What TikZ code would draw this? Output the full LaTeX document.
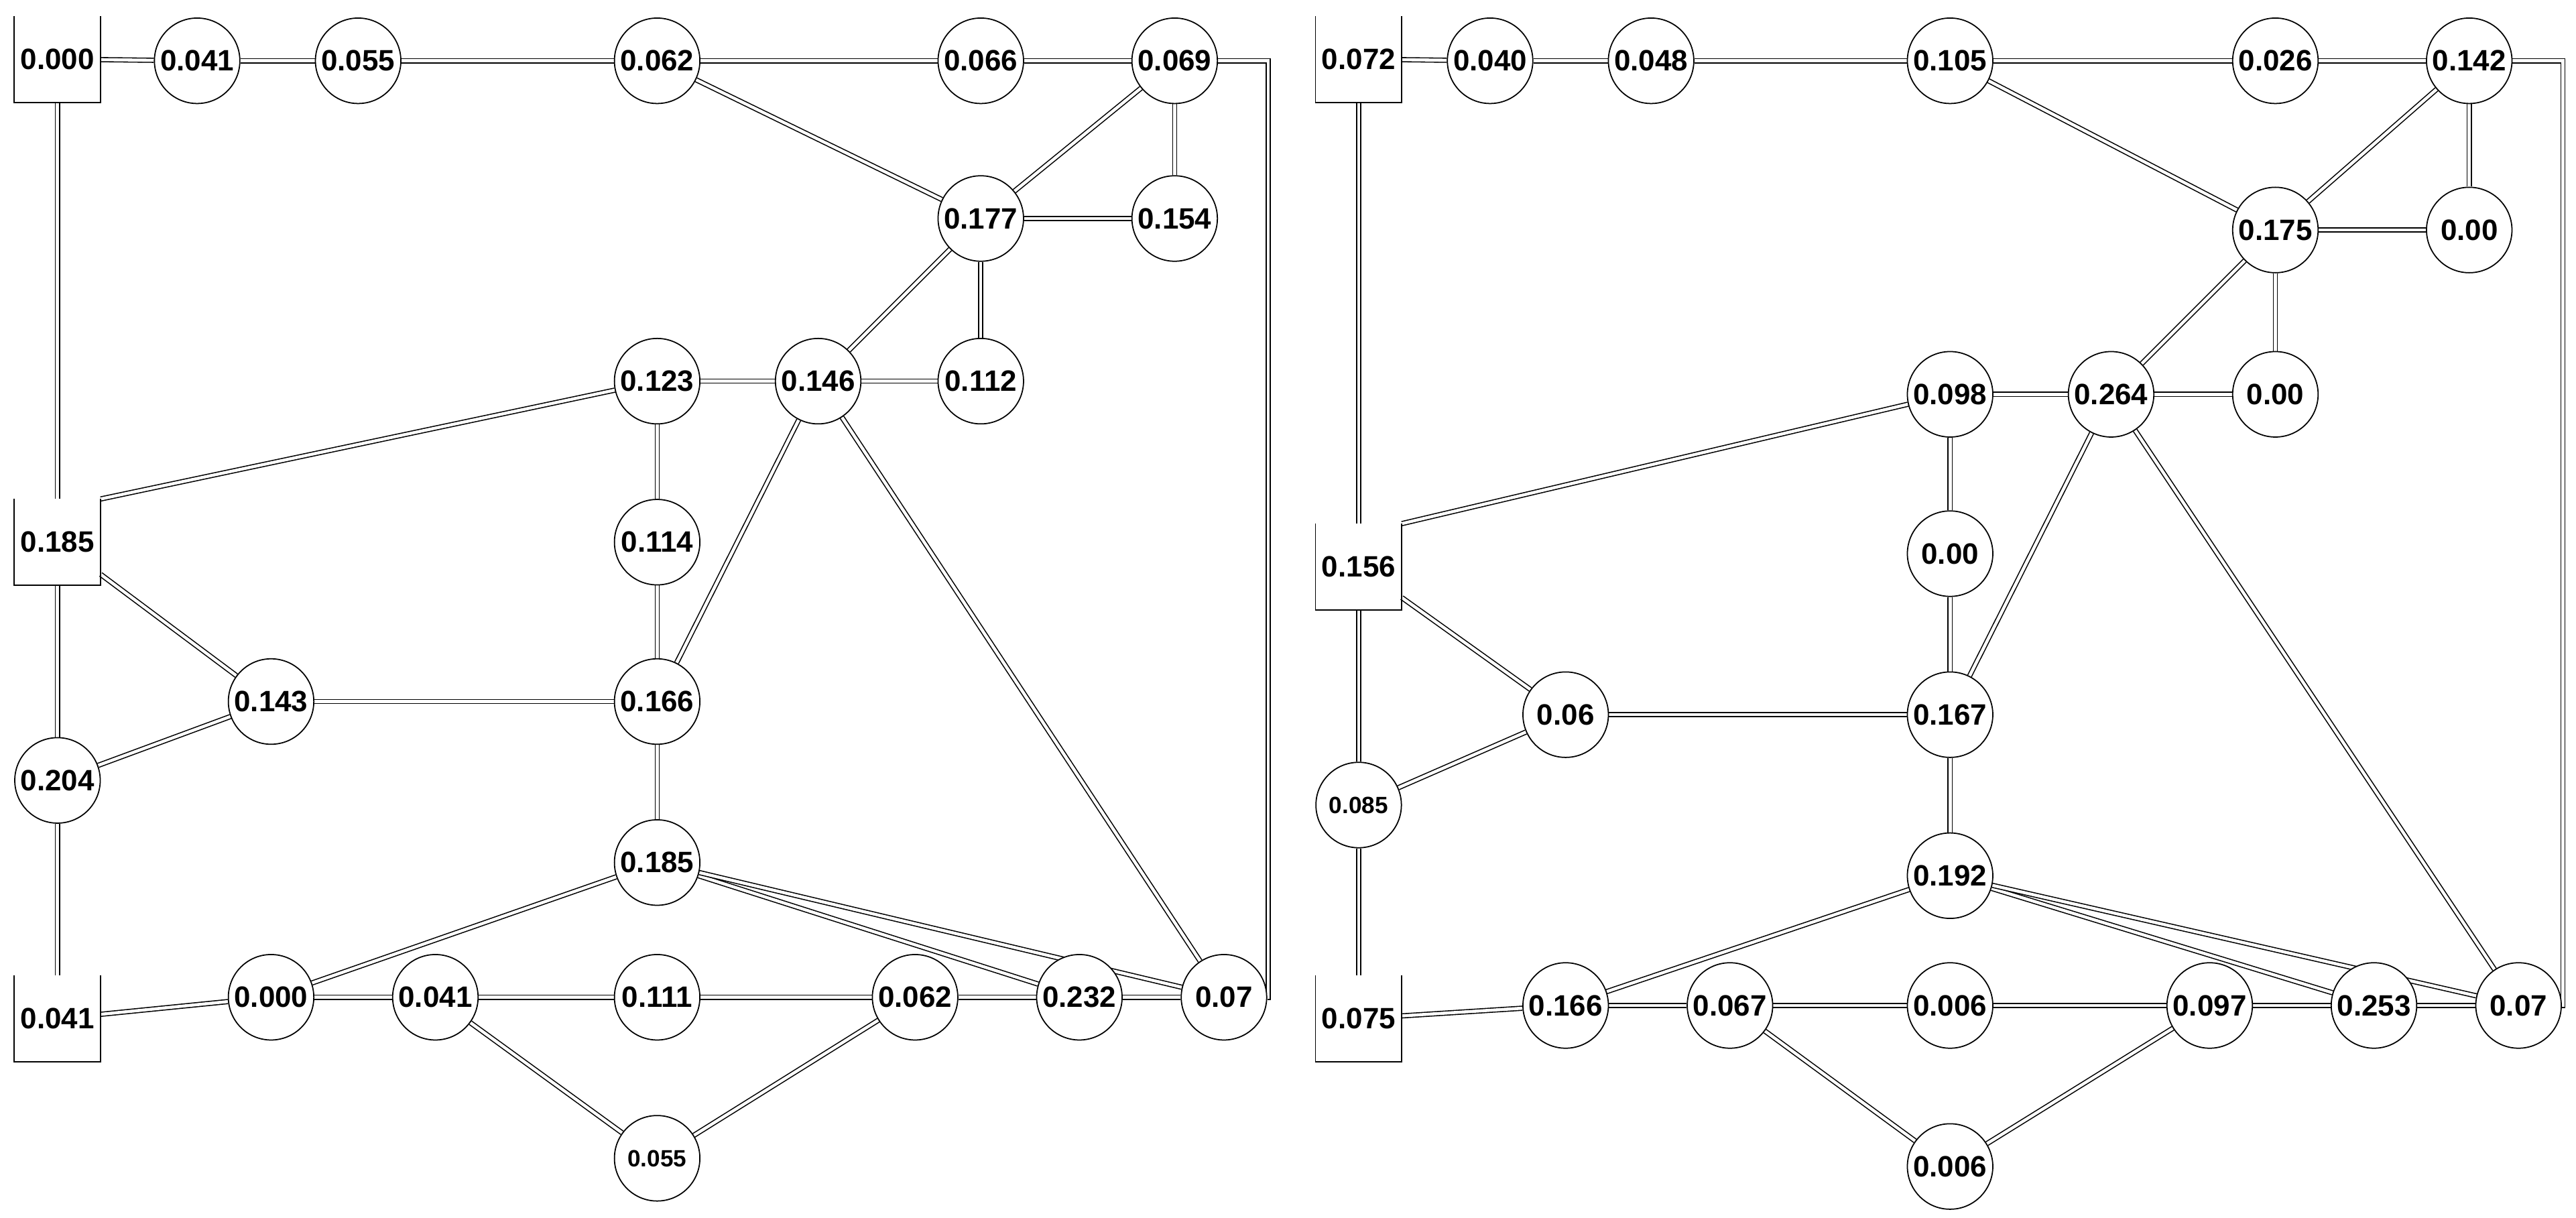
\documentclass[tikz,border=0pt]{standalone}
\usepackage{fontspec}
\setmainfont{Liberation Sans}
\usetikzlibrary{backgrounds}
\begin{document}
\begin{tikzpicture}[x=0.2451mm,y=-0.2451mm,
  nd/.style={circle,draw,line width=0.5pt,minimum size=12.75mm,inner sep=0pt,fill=white,font=\bfseries\fontsize{12.5}{14}\selectfont},
  sm/.style={nd,font=\bfseries\fontsize{10}{12}\selectfont},
  bx/.style={rectangle,minimum size=12.75mm,inner sep=0pt,font=\bfseries\fontsize{12.5}{14}\selectfont},
  e/.style={double,double distance=1.3pt,line width=0.45pt}]
\newcommand\openbox[1]{\draw[line width=0.5pt] (#1.north west) -- (#1.south west) -- (#1.south east) -- (#1.north east);}
\useasboundingbox (0,0) rectangle (1568,741);
% ===== left panel =====
\node[bx] (lb1) at (35,36) {0.000};
\node[bx] (lb2) at (35,330) {0.185};
\node[bx] (lb3) at (35,620) {0.041};
\node[nd] (l041) at (120,37) {0.041};
\node[nd] (l055) at (218,37) {0.055};
\node[nd] (l062) at (400,37) {0.062};
\node[nd] (l066) at (597,37) {0.066};
\node[nd] (l069) at (715,37) {0.069};
\node[nd] (l177) at (597,133) {0.177};
\node[nd] (l154) at (715,133) {0.154};
\node[nd] (l123) at (400,232) {0.123};
\node[nd] (l146) at (498,232) {0.146};
\node[nd] (l112) at (597,232) {0.112};
\node[nd] (l114) at (400,330) {0.114};
\node[nd] (l143) at (165,427) {0.143};
\node[nd] (l166) at (400,427) {0.166};
\node[nd] (l204) at (35,475) {0.204};
\node[nd] (l185) at (400,525) {0.185};
\node[nd] (l000) at (165,607) {0.000};
\node[nd] (l041b) at (265,607) {0.041};
\node[nd] (l111) at (400,607) {0.111};
\node[nd] (l062b) at (557,607) {0.062};
\node[nd] (l232) at (657,607) {0.232};
\node[nd] (l070) at (745,607) {0.07};
\node[sm] (l055b) at (400,705) {0.055};
\openbox{lb1}\openbox{lb2}\openbox{lb3}
% ===== right panel =====
\node[bx] (rb1) at (827,36) {0.072};
\node[bx] (rb2) at (827,345) {0.156};
\node[bx] (rb3) at (827,620) {0.075};
\node[nd] (r040) at (907,37) {0.040};
\node[nd] (r048) at (1005,37) {0.048};
\node[nd] (r105) at (1187,37) {0.105};
\node[nd] (r026) at (1385,37) {0.026};
\node[nd] (r142) at (1503,37) {0.142};
\node[nd] (r175) at (1385,140) {0.175};
\node[nd] (r00a) at (1503,140) {0.00};
\node[nd] (r098) at (1187,240) {0.098};
\node[nd] (r264) at (1285,240) {0.264};
\node[nd] (r00b) at (1385,240) {0.00};
\node[nd] (r00c) at (1187,337) {0.00};
\node[nd] (r06) at (953,435) {0.06};
\node[nd] (r167) at (1187,435) {0.167};
\node[sm] (r085) at (827,490) {0.085};
\node[nd] (r192) at (1187,533) {0.192};
\node[nd] (r166) at (953,612) {0.166};
\node[nd] (r067) at (1053,612) {0.067};
\node[nd] (r006) at (1187,612) {0.006};
\node[nd] (r097) at (1345,612) {0.097};
\node[nd] (r253) at (1445,612) {0.253};
\node[nd] (r070) at (1533,612) {0.07};
\node[nd] (r006b) at (1187,710) {0.006};
\openbox{rb1}\openbox{rb2}\openbox{rb3}
\begin{pgfonlayer}{background}
\draw[e] (lb1) -- (l041);
\draw[e] (l041) -- (l055);
\draw[e] (l055) -- (l062);
\draw[e] (l062) -- (l066);
\draw[e] (l066) -- (l069);
\draw[e] (l069.east) -- (772,37) |- (l070.east);
\draw[e] (l062) -- (l177);
\draw[e] (l069) -- (l177);
\draw[e] (l069) -- (l154);
\draw[e] (l177) -- (l154);
\draw[e] (l177) -- (l112);
\draw[e] (l177) -- (l146);
\draw[e] (l123) -- (l146);
\draw[e] (l146) -- (l112);
\draw[e] (lb1) -- (lb2);
\draw[e] (lb2.north east) -- (l123);
\draw[e] (lb2) -- (l143);
\draw[e] (lb2) -- (l204);
\draw[e] (l204) -- (l143);
\draw[e] (l204) -- (lb3);
\draw[e] (l123) -- (l114);
\draw[e] (l114) -- (l166);
\draw[e] (l146) -- (l166);
\draw[e] (l146) -- (l070);
\draw[e] (l143) -- (l166);
\draw[e] (l166) -- (l185);
\draw[e] (l185) -- (l000);
\draw[e] (l185) -- (l232);
\draw[e] (l185) -- (l070);
\draw[e] (lb3) -- (l000);
\draw[e] (l000) -- (l041b);
\draw[e] (l041b) -- (l111);
\draw[e] (l111) -- (l062b);
\draw[e] (l062b) -- (l232);
\draw[e] (l232) -- (l070);
\draw[e] (l041b) -- (l055b);
\draw[e] (l062b) -- (l055b);
\draw[e] (rb1) -- (r040);
\draw[e] (r040) -- (r048);
\draw[e] (r048) -- (r105);
\draw[e] (r105) -- (r026);
\draw[e] (r026) -- (r142);
\draw[e] (r142.east) -- (1560,37) |- (r070.east);
\draw[e] (r105) -- (r175);
\draw[e] (r142) -- (r175);
\draw[e] (r142) -- (r00a);
\draw[e] (r175) -- (r00a);
\draw[e] (r175) -- (r00b);
\draw[e] (r175) -- (r264);
\draw[e] (r098) -- (r264);
\draw[e] (r264) -- (r00b);
\draw[e] (rb1) -- (rb2);
\draw[e] (rb2.north east) -- (r098);
\draw[e] (rb2) -- (r06);
\draw[e] (rb2) -- (r085);
\draw[e] (r085) -- (r06);
\draw[e] (r085) -- (rb3);
\draw[e] (r098) -- (r00c);
\draw[e] (r00c) -- (r167);
\draw[e] (r264) -- (r167);
\draw[e] (r264) -- (r070);
\draw[e] (r06) -- (r167);
\draw[e] (r167) -- (r192);
\draw[e] (r192) -- (r166);
\draw[e] (r192) -- (r253);
\draw[e] (r192) -- (r070);
\draw[e] (rb3) -- (r166);
\draw[e] (r166) -- (r067);
\draw[e] (r067) -- (r006);
\draw[e] (r006) -- (r097);
\draw[e] (r097) -- (r253);
\draw[e] (r253) -- (r070);
\draw[e] (r067) -- (r006b);
\draw[e] (r097) -- (r006b);
\end{pgfonlayer}
\end{tikzpicture}
\end{document}
